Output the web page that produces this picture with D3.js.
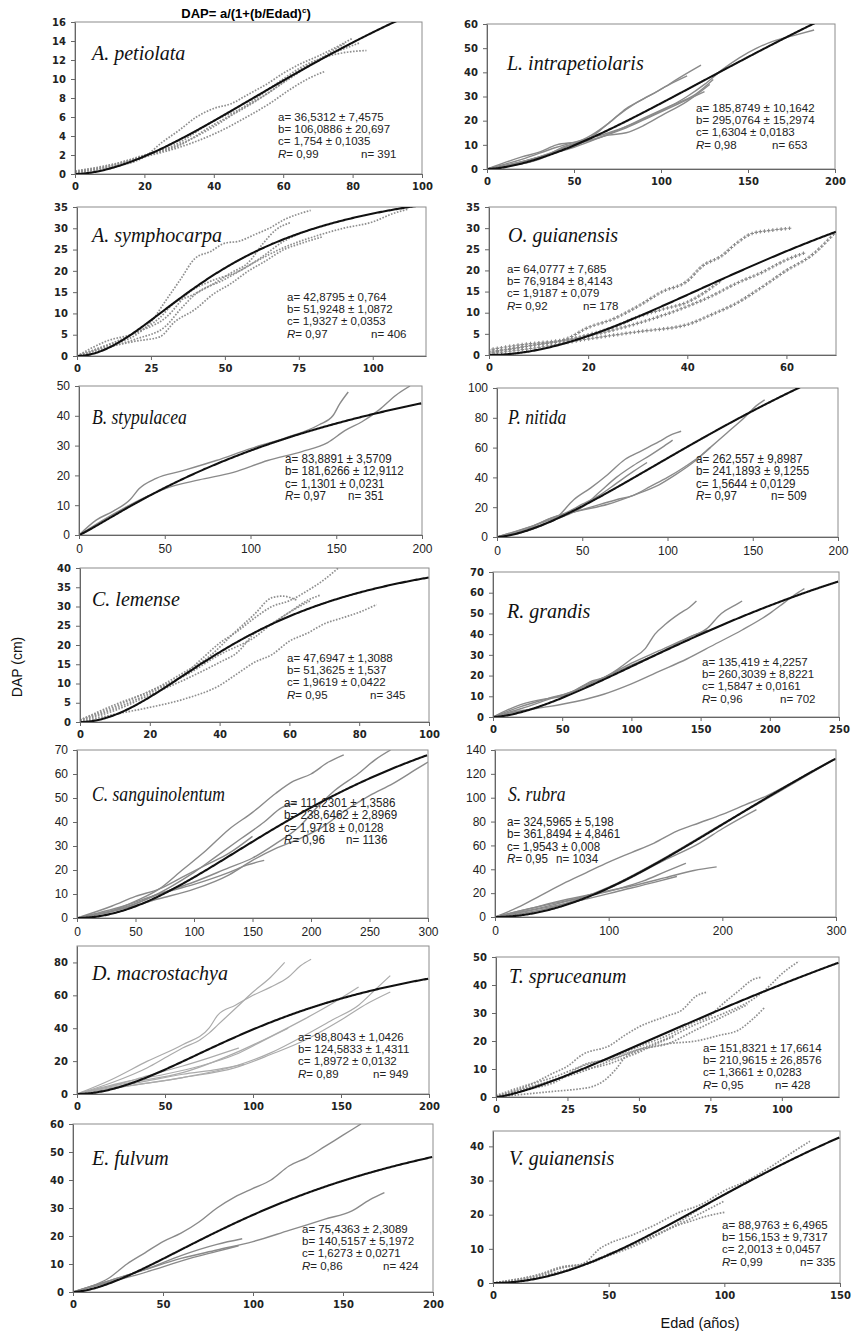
<!DOCTYPE html>
<html><head><meta charset="utf-8">
<script src="https://cdn.jsdelivr.net/npm/d3@7"></script>
<style>body{margin:0;background:#fff} svg{display:block}</style>
</head><body>
<script>
// ---- Species and fitted parameters of DAP = a/(1+(b/Edad)^c) ----
const speciesNames = ["A. petiolata","L. intrapetiolaris","A. symphocarpa","O. guianensis","B. stypulacea","P. nitida","C. lemense","R. grandis","C. sanguinolentum","S. rubra","D. macrostachya","T. spruceanum","E. fulvum","V. guianensis"];
const paramA = [36.5312,185.8749,42.8795,64.0777,83.8891,262.557,47.6947,135.419,111.2301,324.5965,98.8043,151.8321,75.4363,88.9763];
const errA   = [7.4575,10.1642,0.764,7.685,3.5709,9.8987,1.3088,4.2257,1.3586,5.198,1.0426,17.6614,2.3089,6.4965];
const paramB = [106.0886,295.0764,51.9248,76.9184,181.6266,241.1893,51.3625,260.3039,238.6462,361.8494,124.5833,210.9615,140.5157,156.153];
const errB   = [20.697,15.2974,1.0872,8.4143,12.9112,9.1255,1.537,8.8221,2.8969,4.8461,1.4311,26.8576,5.1972,9.7317];
const paramC = [1.754,1.6304,1.9327,1.9187,1.1301,1.5644,1.9619,1.5847,1.9718,1.9543,1.8972,1.3661,1.6273,2.0013];
const errC   = [0.1035,0.0183,0.0353,0.079,0.0231,0.0129,0.0422,0.0161,0.0128,0.008,0.0132,0.0283,0.0271,0.0457];
const rValues = [0.99,0.98,0.97,0.92,0.97,0.97,0.95,0.96,0.96,0.95,0.89,0.95,0.86,0.99];
const nValues = [391,653,406,178,351,509,345,702,1136,1034,949,428,424,335];

// ---- Axis extents and tick labels ----
const xExtent = [100,200,118,70,200,200,100,250,300,300,200,120,200,150];
const yExtent = [16,60,35,35,50,100,40,70,70,140,90,50,60,44.5];
const xTickValues = [
  [0,20,40,60,80,100],[0,50,100,150,200],[0,25,50,75,100],[0,20,40,60],
  [0,50,100,150,200],[0,50,100,150,200],[0,20,40,60,80,100],[0,50,100,150,200,250],
  [0,50,100,150,200,250,300],[0,100,200,300],[0,50,100,150,200],[0,25,50,75,100],
  [0,50,100,150,200],[0,50,100,150]];
const yTickValues = [
  [0,2,4,6,8,10,12,14,16],[0,10,20,30,40,50,60],[0,5,10,15,20,25,30,35],[0,5,10,15,20,25,30,35],
  [0,10,20,30,40,50],[0,20,40,60,80,100],[0,5,10,15,20,25,30,35,40],[0,10,20,30,40,50,60,70],
  [0,10,20,30,40,50,60,70],[0,20,40,60,80,100,120,140],[0,20,40,60,80],[0,10,20,30,40,50],
  [0,10,20,30,40,50,60],[0,10,20,30,40]];

// ---- Individual tree growth trajectories [Edad, DAP] ----
const treesPetiolata = [
  [[0,0.2],[10,0.7],[20,1.8],[25,3.3],[30,4.6],[35,6.0],[40,6.9],[45,7.4],[50,8.4],[55,9.4],[60,10.6],[65,11.6],[70,12.4],[75,13.3],[80,14.3]],
  [[0,0.3],[10,0.9],[20,2.0],[30,3.1],[40,5.0],[50,7.4],[60,10.0],[66,11.4],[72,12.3],[78,12.8],[84,13.0]],
  [[0,0.2],[10,0.8],[20,1.8],[30,2.8],[40,4.2],[50,6.1],[56,7.4],[62,8.9],[67,10.0],[72,10.8]],
  [[0,0.1],[10,0.8],[20,1.9],[30,3.0],[40,5.2],[50,7.2],[60,9.6],[70,12.0],[78,13.8]],
  [[0,0.3],[15,1.4],[30,3.3],[40,5.6],[48,6.9],[56,8.6],[65,11.0],[75,12.8],[82,13.8]]
];
const treesIntrapetiolaris = [
  [[0,0],[15,2],[30,5],[45,9],[60,14],[70,19],[80,25],[90,29],[100,33],[110,37.5],[117,40.5],[123,43]],
  [[0,0],[20,3],[40,7],[55,11],[65,16],[75,22],[85,27],[95,31],[105,35],[115,38.5]],
  [[0,0],[20,4],[40,9],[55,12],[70,15],[85,19],[100,24],[115,30],[125,35],[135,41],[145,46],[155,50],[165,53],[175,55],[188,57.5]],
  [[0,0],[20,3],[35,6],[50,9],[65,13],[80,17],[95,22],[110,27],[125,32]],
  [[0,0],[15,1.5],[30,4],[45,9.5],[55,11],[70,14],[80,15],[90,18],[100,22],[115,28],[128,35]],
  [[0,0],[20,5],[30,7],[40,10],[50,11],[60,12],[75,16],[90,21],[105,26],[120,31],[130,37]]
];
const treesSymphocarpa = [
  [[0,0],[10,2.5],[20,5],[25,8],[30,13],[35,18],[40,23],[45,24.5],[50,26.5],[55,27],[60,28.5],[65,30],[70,32],[79,34.2]],
  [[0,0],[10,3.5],[20,5.5],[28,9],[33,12.5],[38,14],[45,16.5],[52,19.5],[58,22],[63,26.5],[67,29.5],[72,31.3]],
  [[0,0],[10,2],[20,3.5],[28,4.5],[33,8],[40,11],[46,14.5],[52,17],[58,20],[63,22],[70,25],[76,26.5],[83,28]],
  [[0,0],[10,2],[20,4],[30,7],[35,11],[40,14.5],[50,18],[60,22],[70,25.5],[80,28],[90,30],[100,31.5],[107,33.5],[112,34.5]],
  [[0,0],[10,2.5],[20,5.5],[30,9],[38,15],[45,17.5],[55,20],[62,23],[70,27],[75,28.7]]
];
const treesOGuianensis = [
  [[0,1.2],[5,2.2],[10,2.9],[15,3.6],[20,6.5],[25,8.5],[30,11.5],[35,15],[40,17.5],[43,21],[47,23.5],[50,26.5],[53,28.7],[57,29.5],[61,30]],
  [[0,0.5],[5,1.5],[10,2.5],[15,3.3],[20,4.8],[25,6.5],[30,9],[35,10.8],[40,12.5],[44,15.2],[47,17.8]],
  [[0,0.3],[10,1.8],[20,3.8],[30,5.5],[40,7.2],[45,9.6],[50,12.3],[55,16],[60,20],[65,23.5],[70,29.2]],
  [[0,0.8],[10,2.5],[20,4.5],[30,7.5],[40,11.5],[45,14],[50,17],[55,19.5],[60,22.5],[64,24.3]]
];
const treesStypulacea = [
  [[0,0],[10,5],[20,8],[30,12],[35,15.5],[45,19],[60,21.5],[80,25],[100,29],[120,32.5],[140,37],[148,40],[152,44],[157,48]],
  [[0,0],[20,7],[40,13],[50,15.5],[70,18.5],[90,21],[110,25],[130,28],[145,31],[155,35],[165,38],[175,42],[185,47],[193,50]]
];
const treesNitida = [
  [[0,0],[20,6],[35,13],[45,25],[55,33],[65,42],[75,52],[85,58],[95,64],[103,69],[108,71]],
  [[0,0],[20,5],[35,12],[50,20],[60,30],[70,40],[80,48],[90,55],[98,61],[103,65]],
  [[0,0],[20,7],[35,14],[50,18],[65,22],[80,28],[95,35],[105,42],[115,50],[125,60],[135,70],[145,80],[152,88],[157,92]],
  [[0,0],[25,9],[40,15],[55,20],[70,25],[80,28],[90,34],[100,40],[110,47],[120,55],[125,60]],
  [[0,0],[15,4],[30,12],[40,16],[50,22],[60,28],[70,36],[80,44],[88,50]]
];
const treesLemense = [
  [[0,0.5],[10,3.5],[20,7.5],[30,12.5],[35,16.5],[40,20.5],[45,23.5],[50,27],[55,30],[60,31.5],[65,34],[70,37],[74,40]],
  [[0,0.5],[10,4.5],[20,8],[30,13],[37,17],[44,23],[50,28],[55,32.3],[58,32.7],[62,31.7]],
  [[0,0.5],[10,4],[20,8],[30,12],[40,17.5],[50,22],[55,25.5],[60,28.5],[65,31.5],[69,33]],
  [[0,0],[10,2],[20,3.8],[30,6],[40,9.5],[45,12.5],[50,15.5],[55,17.5],[60,21],[65,23],[70,25.5],[75,27],[80,28.5],[85,30.5]],
  [[0,0.3],[10,3],[20,7],[30,11],[40,15.5],[45,18],[50,23],[55,25.5],[60,28.5],[66,31.5]]
];
const treesGrandis = [
  [[0,0],[20,5],[40,9],[60,13],[70,17],[80,19],[90,23],[100,28],[110,33],[117,40],[125,45],[135,50],[142,53],[147,56]],
  [[0,0],[20,4],[40,8.5],[60,13],[80,19],[100,25],[120,31],[140,38],[155,43],[165,50],[175,54],[180,56]],
  [[0,0],[20,3],[40,5],[60,7.5],[80,11],[100,16],[120,22],[140,28],[160,35],[180,42],[200,50],[210,55],[218,59],[225,62]],
  [[0,0],[20,6],[40,9],[50,10],[65,15],[80,19],[100,26],[120,32],[140,38],[155,42]]
];
const treesSanguinolentum = [
  [[0,0],[30,3],[50,7],[70,12],[90,20],[110,28],[130,37],[150,44],[170,52],[185,57],[200,60],[215,65],[228,68]],
  [[0,0],[30,3],[60,8],[80,13],[100,19],[120,26],[140,33],[160,40],[175,46],[188,48]],
  [[0,0],[40,4],[70,10],[100,15],[130,21],[150,25],[170,31],[190,38],[205,46],[220,53],[240,60],[255,66],[268,70]],
  [[0,0],[40,4],[70,8],[100,12],[130,18],[150,24],[170,29],[190,33],[210,38],[230,45],[250,51],[270,56],[290,62],[300,65]],
  [[0,0],[40,5],[70,10],[100,14],[130,19],[145,22],[160,24]],
  [[0,0],[30,5],[50,9],[70,12],[90,17],[110,22],[130,27],[150,34]]
];
const treesRubra = [
  [[0,0],[20,8],[40,18],[60,28],[80,37],[100,46],[120,54],[140,62],[160,72],[180,79],[200,86],[220,94],[240,102],[260,112],[280,123]],
  [[0,0],[50,10],[100,24],[150,48],[180,62],[200,74],[230,90]],
  [[0,0],[30,7],[60,14],[90,20],[120,26],[150,33],[175,39],[195,42]],
  [[0,0],[40,9],[80,17],[110,24],[130,30],[150,38],[168,45]],
  [[0,0],[40,7],[80,15],[110,22],[140,29],[160,34]],
  [[0,0],[50,8],[100,25],[150,50],[200,78],[250,105],[300,133]]
];
const treesMacrostachya = [
  [[0,0],[20,7],[40,16],[50,22],[60,28],[70,33],[75,37],[80,42],[90,52],[100,62],[110,71],[118,80]],
  [[0,0],[20,9],[40,20],[60,30],[75,40],[80,48],[90,54],[100,60],[110,65],[120,71],[127,78],[133,82]],
  [[0,0],[30,5],[60,10],[90,17],[110,25],[130,36],[145,45],[160,54],[170,64],[178,72]],
  [[0,0],[30,5],[60,10],[90,16],[110,24],[130,33],[150,45],[165,55],[178,62]],
  [[0,0],[30,7],[60,13],[90,25],[110,35],[130,46],[145,55],[160,65]],
  [[0,0],[20,4],[40,8],[60,12],[80,15],[95,18]],
  [[0,0],[20,5],[40,11],[60,17],[75,22],[92,28]],
  [[0,0],[30,8],[50,12],[70,17],[90,24],[105,32],[120,40]]
];
const treesSpruceanum = [
  [[0,0],[10,3.5],[20,8.5],[25,11],[30,15],[40,18.5],[45,22],[50,25],[60,29],[65,31],[70,36],[74,37.5]],
  [[0,0.5],[10,4],[20,7],[30,11],[40,14],[50,18],[60,22],[70,27],[75,29],[78,32],[85,38],[90,42],[93,42.8]],
  [[0,0.5],[10,3],[20,6],[30,9],[40,13],[50,17],[60,21],[70,26],[80,30],[90,35],[95,39],[100,44],[106,48.5]],
  [[0,0],[10,1],[20,2],[30,3],[33,3.5],[38,6],[42,10],[45,14],[50,16.5],[60,19],[70,20],[78,22],[85,24],[90,28],[94,32]],
  [[0,0],[10,3],[20,6],[30,9.5],[40,12],[45,14],[50,16],[55,18.5],[62,21.5]],
  [[0,0],[10,2.5],[20,5],[32,12],[40,13.5],[50,17],[60,19],[70,24],[80,29],[88,33]]
];
const treesFulvum = [
  [[0,0],[10,2],[20,5],[30,10],[40,14],[50,18],[60,21],[70,25],[80,30],[90,34],[100,37],[110,40],[120,45],[130,48],[140,52],[150,56],[160,60]],
  [[0,0],[20,4],[40,8],[60,12],[80,15],[100,18],[120,22],[140,26],[155,29],[165,33],[173,35.5]],
  [[0,0],[20,4],[40,8],[60,13],[80,17],[94,19]],
  [[0,0],[20,3.5],[35,6],[50,9],[65,12],[80,14.5],[92,16.5]]
];
const treesVGuianensis = [
  [[0,0],[20,2.5],[30,4.5],[40,6],[43,8],[46,10],[50,11.5],[60,14],[70,17],[80,20.5],[90,23],[100,27],[110,30],[120,34],[130,38.5],[137,41.5]],
  [[0,0],[20,2],[30,4.5],[40,5.5],[50,8],[60,11],[70,14],[80,17],[90,20.5],[100,24]],
  [[0,0],[20,2.5],[30,4.8],[40,5.5],[50,8.5],[60,11],[70,14],[80,17],[85,18],[92,19.5],[100,20.7]],
  [[0,0],[20,2],[35,4.5],[45,7],[60,10.5],[75,15.5],[90,22],[100,26],[110,29.5]]
];
const treeSets = [treesPetiolata,treesIntrapetiolaris,treesSymphocarpa,treesOGuianensis,treesStypulacea,treesNitida,
  treesLemense,treesGrandis,treesSanguinolentum,treesRubra,treesMacrostachya,treesSpruceanum,treesFulvum,treesVGuianensis];

// ---- Layout: plot boxes [left, right, bottom, top] in pixels ----
const panelBox = [
  [75,422,174,22],[487,835,169,24],
  [77,426,356,207],[489,836,355,207],
  [79,422,535,386],[497,838,537,388],
  [80,429,722,568],[493,839,717,572],
  [77,428,918,750],[495,836,917,750],
  [77,429,1094,946],[496,839,1097,957],
  [73,433,1292,1124],[493,840,1283,1131]];
const nameAt = [[92,60],[507,70],[92,242],[508,242],[92,424],[508,424],[92,606],[507,618],[92,801],[508,801],[92,980],[509,983],[92,1165],[509,1165]];
const statsAt = [[278,121,361],[696,112,772],[287,301,371],[507,273,583],[285,463,348],[696,463,771],[287,662,370],[702,666,780],
  [284,807,346],[507,826,556],[298,1041,373],[703,1052,775],[302,1233,383],[722,1229,800]];
const lineStyle = ["dots","solid","dots","plus","solid","solid","dots","solid","solid","solid","light","dots","solid","dots"];
const narrowPanel = [false,false,false,false,true,true,false,false,true,true,false,false,false,false];

const W = 859, H = 1334;
const svg = d3.select("body").append("svg").attr("width", W).attr("height", H);
const fmt = v => String(v).replace(".", ",");
// horizontal squeeze about a text's own anchor
const squeeze = (sel, x0, k) => sel.attr("transform", `translate(${x0},0) scale(${k},1) translate(${-x0},0)`);

svg.append("text").attr("x", 246).attr("y", 18).attr("text-anchor","middle")
  .attr("font-family","Liberation Sans, Arial, sans-serif").attr("font-weight","bold").attr("font-size",13)
  .call(t => { t.append("tspan").text("DAP= a/(1+(b/Edad)");
               t.append("tspan").attr("font-size",8).attr("dy",-5).text("c");
               t.append("tspan").attr("dy",5).text(")"); });

speciesNames.forEach((name, i) => {
  const [L, R, B, T] = panelBox[i];
  const x = d3.scaleLinear().domain([0, xExtent[i]]).range([L, R]);
  const y = d3.scaleLinear().domain([0, yExtent[i]]).range([B, T]);
  const g = svg.append("g");
  const narrow = narrowPanel[i];

  const clipId = "clip" + i;
  g.append("clipPath").attr("id", clipId).append("rect")
    .attr("x", L).attr("y", T).attr("width", R - L).attr("height", B - T);

  g.append("rect").attr("x", L).attr("y", T).attr("width", R - L).attr("height", B - T)
    .attr("fill", "none").attr("stroke", "#8c8c8c").attr("stroke-width", 1);

  const line = d3.line().x(d => x(d[0])).y(d => y(d[1])).curve(d3.curveMonotoneX);
  const style = lineStyle[i];
  const lines = g.append("g").attr("clip-path", `url(#${clipId})`);
  treeSets[i].forEach(tree => {
    const p = lines.append("path").attr("d", line(tree)).attr("fill", "none");
    if (style === "dots") {
      p.attr("stroke", "#8e8e8e").attr("stroke-width", 1.7).attr("stroke-dasharray", "1.6,1.5");
    } else if (style === "plus") {
      p.attr("stroke", "none");
      const node = p.node(), len = node.getTotalLength();
      for (let s = 0; s <= len; s += 4.2) {
        const pt = node.getPointAtLength(s);
        lines.append("path").attr("d", `M${pt.x-1.8},${pt.y}h3.6M${pt.x},${pt.y-1.8}v3.6`)
          .attr("stroke", "#8a8a8a").attr("stroke-width", 1.1);
      }
    } else if (style === "light") {
      p.attr("stroke", "#ababab").attr("stroke-width", 1.2);
    } else {
      p.attr("stroke", "#8a8a8a").attr("stroke-width", 1.4);
    }
  });

  // fitted model curve
  const a = paramA[i], b = paramB[i], c = paramC[i];
  const ages = d3.range(0.2, xExtent[i] + 0.01, xExtent[i] / 300);
  const fit = d3.line().x(d => x(d)).y(d => y(a / (1 + Math.pow(b / d, c))));
  lines.append("path").attr("d", fit([0.001].concat(ages)))
    .attr("fill", "none").attr("stroke", "#111").attr("stroke-width", 2.1);

  const tickFont = narrow ? "Liberation Sans, Arial, sans-serif" : "DejaVu Sans, Verdana, sans-serif";
  const tickSize = narrow ? 12 : 10;
  const tickWeight = narrow ? "normal" : "bold";

  const ax = g.append("g").attr("transform", `translate(0,${B})`)
    .call(d3.axisBottom(x).tickValues(xTickValues[i]).tickSize(4).tickSizeOuter(0).tickPadding(5).tickFormat(d3.format("d")));
  const ay = g.append("g").attr("transform", `translate(${L},0)`)
    .call(d3.axisLeft(y).tickValues(yTickValues[i]).tickSize(4).tickSizeOuter(0).tickPadding(5).tickFormat(d3.format("d")));
  [ax, ay].forEach(s => {
    s.select(".domain").attr("stroke", "#666");
    s.selectAll(".tick line").attr("stroke", "#666");
    s.selectAll("text").attr("font-family", tickFont).attr("font-size", tickSize)
      .attr("font-weight", tickWeight).attr("fill", "#222");
  });

  // species name
  const nm = g.append("text").attr("x", nameAt[i][0]).attr("y", nameAt[i][1])
    .attr("font-family", "Liberation Serif, Times New Roman, serif").attr("font-style", "italic")
    .attr("font-size", 20).attr("fill", "#111").text(name);
  if (narrow) squeeze(nm, nameAt[i][0], 0.88);

  // fit statistics
  const [sx, sy, nx] = statsAt[i];
  const st = g.append("g").attr("font-family", "Liberation Sans, Arial, sans-serif")
    .attr("font-size", narrow ? 13.5 : 11.5).attr("fill", "#222");
  const lh = narrow ? 12.5 : 12.2;
  const k = narrow ? 0.86 : 1;
  const rows = [
    `a= ${fmt(a)} ± ${fmt(errA[i])}`,
    `b= ${fmt(b)} ± ${fmt(errB[i])}`,
    `c= ${fmt(c)} ± ${fmt(errC[i])}`];
  rows.forEach((txt, j) => squeeze(st.append("text").attr("x", sx).attr("y", sy + j * lh).text(txt), sx, k));
  const rt = st.append("text").attr("x", sx).attr("y", sy + 3 * lh);
  rt.append("tspan").attr("font-style", "italic").text("R");
  rt.append("tspan").text(`= ${fmt(rValues[i])}`);
  squeeze(rt, sx, k);
  squeeze(st.append("text").attr("x", nx).attr("y", sy + 3 * lh).text(`n= ${nValues[i]}`), nx, k);
});

svg.append("text").attr("transform", "translate(22,667) rotate(-90)").attr("text-anchor", "middle")
  .attr("font-family", "Liberation Sans, Arial, sans-serif").attr("font-size", 14).attr("fill", "#111").text("DAP (cm)");
svg.append("text").attr("x", 700).attr("y", 1328).attr("text-anchor", "middle")
  .attr("font-family", "Liberation Sans, Arial, sans-serif").attr("font-size", 14.5).attr("fill", "#111").text("Edad (años)");
</script>
</body></html>
